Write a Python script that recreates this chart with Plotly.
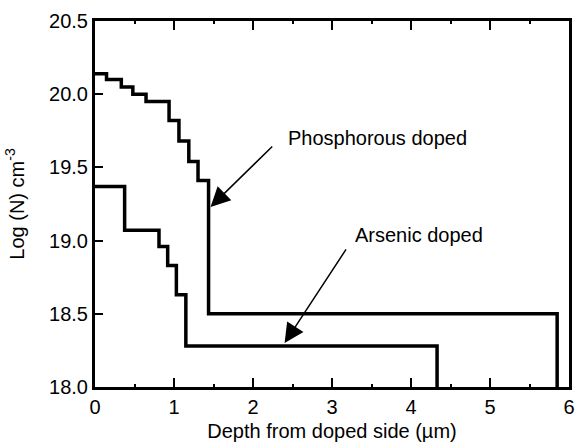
import plotly.graph_objects as go

# Data (step profiles): x = step start depth (um), y = log concentration
phos_x = [0.0, 0.146, 0.333, 0.479, 0.646, 0.9375, 1.0625, 1.1875, 1.304, 1.4375, 5.85]
phos_y = [20.14, 20.10, 20.05, 20.00, 19.95, 19.82, 19.68, 19.54, 19.41, 18.50, 18.0]

ars_x = [0.0, 0.375, 0.81, 0.92, 1.03, 1.15, 4.33]
ars_y = [19.37, 19.07, 18.96, 18.83, 18.63, 18.28, 18.0]

x_ticks = [0, 1, 2, 3, 4, 5, 6]
y_ticks = [18.0, 18.5, 19.0, 19.5, 20.0, 20.5]

FONT = "Liberation Sans, Arial, sans-serif"

fig = go.Figure()
fig.add_trace(go.Scatter(x=phos_x, y=phos_y, mode="lines", line_shape="hv",
                         line=dict(color="black", width=3.5), showlegend=False))
fig.add_trace(go.Scatter(x=ars_x, y=ars_y, mode="lines", line_shape="hv",
                         line=dict(color="black", width=3.5), showlegend=False))

# Text labels
fig.add_annotation(x=2.4125, y=19.70, text="Phosphorous doped", showarrow=False,
                   xanchor="left", yanchor="middle", font=dict(size=20, color="black", family=FONT))
fig.add_annotation(x=3.2625, y=19.04, text="Arsenic doped", showarrow=False,
                   xanchor="left", yanchor="middle", font=dict(size=20, color="black", family=FONT))
# Arrows
fig.add_annotation(x=1.4625, y=19.23, ax=2.2625, ay=19.653, axref="x", ayref="y",
                   text="", showarrow=True, arrowhead=2, arrowwidth=1.5, arrowsize=2.6,
                   arrowcolor="black", standoff=0)
fig.add_annotation(x=2.40, y=18.30, ax=3.19, ay=18.95, axref="x", ayref="y",
                   text="", showarrow=True, arrowhead=2, arrowwidth=1.5, arrowsize=2.6,
                   arrowcolor="black", standoff=0)

fig.update_xaxes(range=[0, 6], tickvals=x_ticks, ticktext=[str(v) for v in x_ticks],
                 ticks="inside", ticklen=9, tickwidth=2, tickcolor="black",
                 minor=dict(dtick=0.5, tick0=0, ticks="inside", ticklen=3, tickwidth=2, tickcolor="black", showgrid=False),
                 showline=True, linewidth=3, linecolor="black", mirror="ticks",
                 showgrid=False, zeroline=False,
                 tickfont=dict(size=20, color="black", family=FONT),
                 title=dict(text="Depth from doped side (µm)", font=dict(size=20, color="black", family=FONT), standoff=7))
fig.update_yaxes(range=[18.0, 20.5], tickvals=y_ticks, ticktext=[f"{v:.1f}" for v in y_ticks],
                 ticks="inside", ticklen=8, tickwidth=2, tickcolor="black",
                 showline=True, linewidth=3, linecolor="black", mirror=True,
                 showgrid=False, zeroline=False,
                 tickfont=dict(size=20, color="black", family=FONT),
                 title=dict(text="Log (N) cm<sup>-3</sup>", font=dict(size=20, color="black", family=FONT), standoff=20))

fig.update_layout(width=584, height=448, margin=dict(l=95, r=9, t=21, b=55),
                  plot_bgcolor="white", paper_bgcolor="white",
                  font=dict(family=FONT, color="black"))

fig.write_html("out.html")
